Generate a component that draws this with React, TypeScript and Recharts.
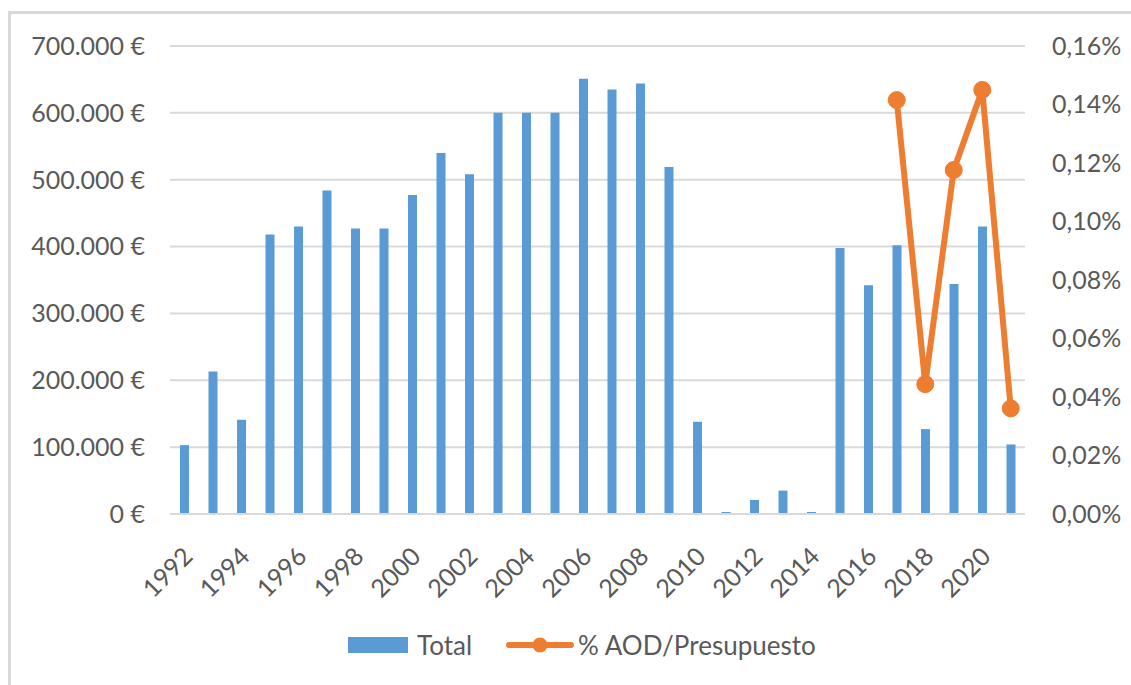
import { ComposedChart, Bar, Line, XAxis, YAxis, CartesianGrid, Legend } from "recharts";

const years = [
  "1992", "1993", "1994", "1995", "1996", "1997", "1998", "1999", "2000", "2001",
  "2002", "2003", "2004", "2005", "2006", "2007", "2008", "2009", "2010", "2011",
  "2012", "2013", "2014", "2015", "2016", "2017", "2018", "2019", "2020", "2021",
];

// Total AOD in euros
const totals = [
  103000, 213000, 141000, 418000, 430000, 484000, 427000, 427000, 477000, 540000,
  508000, 600000, 600000, 600000, 651000, 635000, 644000, 519000, 138000, 3000,
  21000, 35000, 3000, 398000, 342000, 402000, 127000, 344000, 430000, 104000,
];

// % AOD / Presupuesto (in percent units), only known from 2017
const pctAod: (number | null)[] = [
  null, null, null, null, null, null, null, null, null, null,
  null, null, null, null, null, null, null, null, null, null,
  null, null, null, null, null, 0.1415, 0.0444, 0.1176, 0.145, 0.0361,
];

const leftTicks = [0, 100000, 200000, 300000, 400000, 500000, 600000, 700000];
const rightTicks = [0, 0.02, 0.04, 0.06, 0.08, 0.1, 0.12, 0.14, 0.16];

const data = years.map((y, i) => ({ year: y, total: totals[i], pct: pctAod[i] }));

const FONT = "Lato, 'Open Sans', sans-serif";
const TEXT = "#595959";
const BLUE = "#5B9BD5";
const ORANGE = "#ED7D31";
const GRID = "#d9d9d9";

const euro = (v: number) =>
  v === 0 ? "0 €" : v.toString().replace(/\B(?=(\d{3})+(?!\d))/g, ".") + " €";
const pct = (v: number) => v.toFixed(2).replace(".", ",") + "%";

const YearTick = ({ x, y, payload }: { x?: number; y?: number; payload?: { value: string } }) => {
  const px = (x ?? 0) + 10;
  const py = (y ?? 0) + 44;
  return (
    <text
      x={px}
      y={py}
      transform={`rotate(-45, ${px}, ${py})`}
      textAnchor="end"
      fill={TEXT}
      fontSize={25}
      fontFamily={FONT}
    >
      {payload?.value}
    </text>
  );
};

const LegendBox = () => (
  <div
    style={{
      display: "flex",
      justifyContent: "flex-start",
      alignItems: "center",
      paddingLeft: 348,
      height: 40,
      fontFamily: FONT,
      fontSize: 26,
      color: TEXT,
    }}
  >
    <svg width={60} height={16} style={{ marginRight: 9 }}>
      <rect x={0} y={0} width={60} height={16} fill={BLUE} />
    </svg>
    <span style={{ marginRight: 34 }}>Total</span>
    <svg width={68} height={18} style={{ marginRight: 4 }}>
      <line x1={3} y1={9} x2={65} y2={9} stroke={ORANGE} strokeWidth={6} strokeLinecap="round" />
      <circle cx={34} cy={9} r={7.5} fill={ORANGE} />
    </svg>
    <span>% AOD/Presupuesto</span>
  </div>
);

export default function App() {
  return (
    <div style={{ position: "absolute", left: 0, top: 0, width: 1131, height: 685, background: "#fff" }}>
      <div
        style={{
          position: "absolute",
          left: 8,
          top: 11,
          right: -10,
          bottom: -10,
          borderTop: `3px solid ${GRID}`,
          borderLeft: `3px solid ${GRID}`,
        }}
      />
      <div style={{ position: "absolute", left: 0, top: 0 }}>
        <ComposedChart
          width={1131}
          height={685}
          data={data}
          margin={{ top: 46, right: 0, bottom: 20, left: 0 }}
          barCategoryGap={0}
        >
          <CartesianGrid yAxisId="left" vertical={false} stroke={GRID} strokeWidth={2} />
          <XAxis
            dataKey="year"
            interval={1}
            height={111}
            tickLine={false}
            tickSize={0}
            tickMargin={0}
            axisLine={{ stroke: GRID, strokeWidth: 2 }}
            tick={<YearTick />}
          />
          <YAxis
            yAxisId="left"
            orientation="left"
            width={170}
            domain={[0, 700000]}
            ticks={leftTicks}
            tickFormatter={euro}
            axisLine={false}
            tickLine={false}
            tickSize={0}
            tickMargin={25}
            tick={{ fill: TEXT, fontSize: 25, fontFamily: FONT }}
          />
          <YAxis
            yAxisId="right"
            orientation="right"
            width={106}
            domain={[0, 0.16]}
            ticks={rightTicks}
            tickFormatter={pct}
            axisLine={false}
            tickLine={false}
            tickSize={0}
            tickMargin={27}
            tick={{ fill: TEXT, fontSize: 25, fontFamily: FONT, textAnchor: "start" }}
          />
          <Legend verticalAlign="bottom" content={<LegendBox />} wrapperStyle={{ height: 40 }} />
          <Bar yAxisId="left" dataKey="total" name="Total" fill={BLUE} barSize={9} isAnimationActive={false} />
          <Line
            yAxisId="right"
            dataKey="pct"
            name="% AOD/Presupuesto"
            stroke={ORANGE}
            strokeWidth={6}
            dot={{ r: 8.5, fill: ORANGE, stroke: ORANGE, strokeWidth: 1 }}
            activeDot={false}
            isAnimationActive={false}
          />
        </ComposedChart>
      </div>
    </div>
  );
}
